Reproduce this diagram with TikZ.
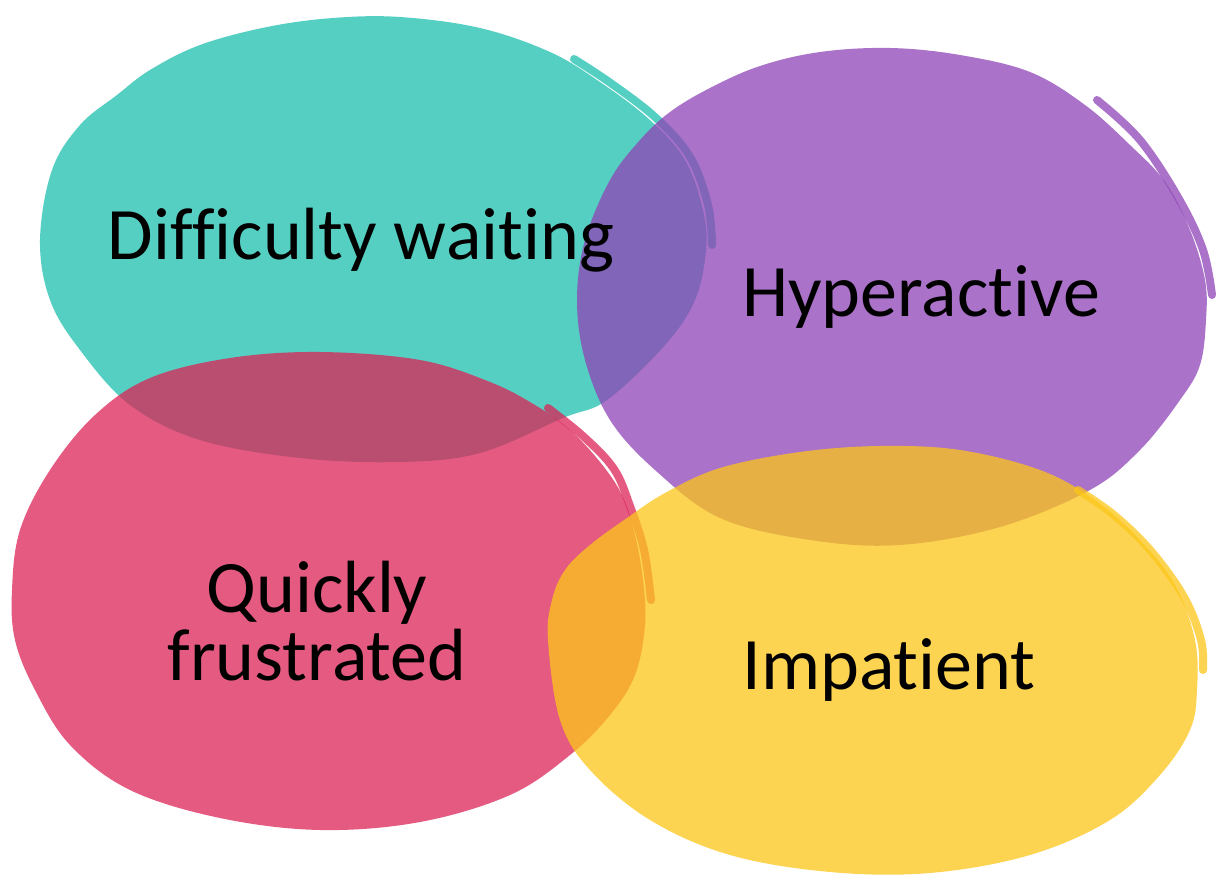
\documentclass[tikz,border=0pt]{standalone}
\usepackage{fontspec}
\setmainfont{Carlito}[Ligatures=NoCommon]
\usetikzlibrary{positioning}

\definecolor{tealblob}{RGB}{30,191,175}
\definecolor{purpleblob}{RGB}{142,67,182}
\definecolor{pinkblob}{RGB}{219,35,86}
\definecolor{yellowblob}{RGB}{252,198,24}

\tikzset{
  blob/.style={fill=#1, fill opacity=0.75, draw=none},
  brush/.style={draw=#1, draw opacity=0.75, line width=4pt, line cap=round},
  word/.style={font=\fontsize{37}{34}\selectfont, text=black, align=center, inner sep=0pt}
}

\begin{document}
\begin{tikzpicture}[x=0.5pt, y=-0.5pt]
  \useasboundingbox (0,0) rectangle (1226,877);
  \fill[blob=tealblob] plot[smooth cycle, tension=0.6] coordinates {(40,240) (52,170) (80,125) (117,95) (150,70) (200,45) (267,27) (333,18) (400,17) (480,28) (550,52) (600,82) (650,120) (685,160) (703,210) (706,250) (695,300) (665,345) (607,400) (563,418) (480,453) (400,462) (300,458) (200,440) (130,405) (80,350) (50,300)};
  \draw[brush=tealblob] plot[smooth, tension=0.6] coordinates {(574,59) (612,84) (656,118) (690,157) (708,205) (712,245)};
  \fill[blob=purpleblob] plot[smooth cycle, tension=0.6] coordinates {(577,300) (585,240) (610,180) (640,140) (670,112) (710,88) (760,66) (820,52) (890,48) (960,55) (1030,72) (1085,105) (1130,145) (1165,182) (1190,230) (1205,280) (1206,320) (1200,365) (1180,400) (1140,450) (1090,490) (1000,527) (900,545) (810,540) (720,518) (655,470) (610,420) (585,360)};
  \draw[brush=purpleblob] plot[smooth, tension=0.6] coordinates {(1097,100) (1140,140) (1179,199) (1203,250) (1212,295)};
  \fill[blob=pinkblob] plot[smooth cycle, tension=0.6] coordinates {(12,590) (20,530) (50,470) (95,415) (150,378) (230,358) (320,352) (420,360) (490,382) (535,405) (570,430) (600,462) (622,495) (635,535) (643,580) (645,625) (635,675) (610,715) (570,755) (510,795) (420,822) (320,830) (220,818) (130,790) (70,745) (35,690) (15,640)};
  \draw[brush=pinkblob] plot[smooth, tension=0.6] coordinates {(548,408) (584,437) (614,469) (630,506) (644,550) (651,600)};
  \fill[blob=yellowblob] plot[smooth cycle, tension=0.6] coordinates {(548,640) (552,600) (565,570) (590,545) (627,518) (665,493) (720,468) (800,452) (880,446) (960,450) (1040,470) (1095,500) (1140,540) (1175,585) (1195,640) (1197,690) (1190,730) (1160,775) (1110,820) (1030,855) (930,873) (830,872) (730,855) (650,820) (590,770) (560,720)};
  \draw[brush=yellowblob] plot[smooth, tension=0.6] coordinates {(1078,490) (1114,515) (1151,551) (1184,597) (1201,640) (1203,670)};
  \node[word] (waiting) at (361,240) {Difficulty waiting};
  \node[word] (hyper) at (921,297) {Hyperactive};
  \node[word] (frustrated) at (317,621) {Quickly\\frustrated};
  \node[word] (impatient) at (889,670) {Impatient};
\end{tikzpicture}
\end{document}
